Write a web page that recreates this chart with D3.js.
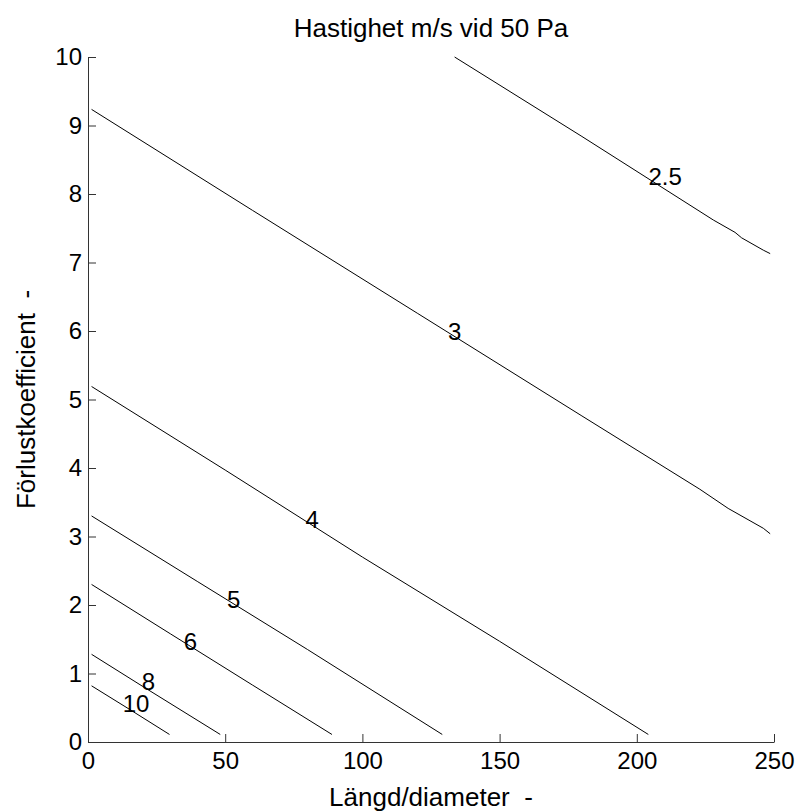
<!DOCTYPE html>
<html>
<head>
<meta charset="utf-8">
<script src="https://cdn.jsdelivr.net/npm/d3@7"></script>
<style>
  html, body { margin: 0; padding: 0; background: #fff; }
  svg { display: block; }
  text { font-family: "Liberation Sans", Arial, Helvetica, sans-serif; fill: #000; white-space: pre; }
</style>
</head>
<body>
<svg id="chart" width="800" height="812"></svg>
<script>
// ---- data ----
const titleText = "Hastighet m/s vid 50 Pa";
const xLabelText = "Längd/diameter  -";
const yLabelText = "Förlustkoefficient  -";
const xTicks = [0, 50, 100, 150, 200, 250];
const yTicks = [0, 1, 2, 3, 4, 5, 6, 7, 8, 9, 10];
const levels = [2.5, 3, 4, 5, 6, 8, 10];

// contour lines: [L/d, zeta] points
const contour2_5 = [[133.6, 10.0], [180, 8.84], [227.9, 7.62], [235.8, 7.44], [238.2, 7.36], [246.1, 7.18], [248.6, 7.13]];
const contour3   = [[1.3, 9.235], [60, 7.76], [120, 6.26], [180, 4.76], [222.97, 3.69], [233.3, 3.41], [246.1, 3.12], [248.6, 3.04]];
const contour4   = [[1.3, 5.19], [50, 3.97], [100, 2.70], [150, 1.47], [204.2, 0.11]];
const contour5   = [[1.3, 3.30], [40, 2.34], [80, 1.35], [129.1, 0.11]];
const contour6   = [[1.3, 2.30], [30, 1.58], [60, 0.83], [88.9, 0.11]];
const contour8   = [[1.3, 1.28], [20, 0.81], [48.2, 0.11]];
const contour10  = [[1.3, 0.82], [15, 0.48], [29.7, 0.11]];
const contours = [contour2_5, contour3, contour4, contour5, contour6, contour8, contour10];

// label anchor points (text centre) per level
const labelPos = [[210.3, 8.25], [133.6, 6.0], [81.7, 3.25], [53.1, 2.08], [37.3, 1.47], [22.0, 0.89], [17.5, 0.56]];

// ---- layout ----
const W = 800, H = 812;
const margin = { left: 88, right: 26, top: 57, bottom: 70 };
const svg = d3.select("#chart");
const x = d3.scaleLinear().domain([0, 250]).range([margin.left, W - margin.right]);
const y = d3.scaleLinear().domain([0, 10]).range([H - margin.bottom, margin.top]);

const tickFs = 24, labelFs = 26, clFs = 24;
const axisColor = "#333";

// axes (ticks inward, no box)
const xAxis = d3.axisBottom(x).tickValues(xTicks).tickSizeInner(-8).tickSizeOuter(0).tickPadding(14);
const yAxis = d3.axisLeft(y).tickValues(yTicks).tickSizeInner(-8).tickSizeOuter(0).tickPadding(14);

const gx = svg.append("g").attr("transform", `translate(0,${H - margin.bottom})`).call(xAxis);
const gy = svg.append("g").attr("transform", `translate(${margin.left},0)`).call(yAxis);
[gx, gy].forEach(g => {
  g.select(".domain").attr("stroke", axisColor).attr("stroke-width", 1);
  g.selectAll(".tick line").attr("stroke", axisColor).attr("stroke-width", 1);
  g.selectAll(".tick text")
    .style("font-family", '"Liberation Sans", Arial, sans-serif')
    .style("font-size", tickFs + "px")
    .attr("fill", "#000");
});
gx.selectAll(".tick text").attr("dy", "0.71em").attr("y", 10);
gy.selectAll(".tick text").attr("x", -6);

// contour lines
const line = d3.line().x(d => x(d[0])).y(d => y(d[1]));
svg.append("g").selectAll("path").data(contours).join("path")
  .attr("d", line)
  .attr("fill", "none")
  .attr("stroke", "#000")
  .attr("stroke-width", 1);

// contour labels
svg.append("g").selectAll("text").data(levels).join("text")
  .attr("x", (d, i) => x(labelPos[i][0]))
  .attr("y", (d, i) => y(labelPos[i][1]))
  .attr("text-anchor", "middle")
  .attr("dominant-baseline", "central")
  .style("font-size", clFs + "px")
  .text(d => d);

// title and axis labels
svg.append("text")
  .attr("x", (x(0) + x(250)) / 2).attr("y", 37)
  .attr("text-anchor", "middle")
  .style("font-size", labelFs + "px")
  .text(titleText);

svg.append("text")
  .attr("x", (x(0) + x(250)) / 2).attr("y", 806)
  .attr("text-anchor", "middle")
  .style("font-size", labelFs + "px")
  .text(xLabelText);

svg.append("text")
  .attr("transform", `translate(35,${(y(0) + y(10)) / 2}) rotate(-90)`)
  .attr("text-anchor", "middle")
  .style("font-size", labelFs + "px")
  .text(yLabelText);
</script>
</body>
</html>
